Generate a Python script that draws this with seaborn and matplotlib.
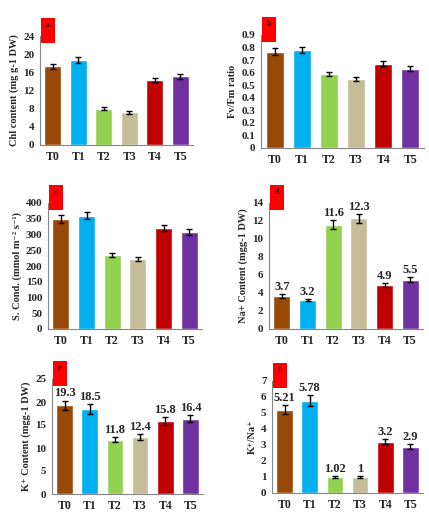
import numpy as np
import pandas as pd
import matplotlib
matplotlib.use("Agg")
import matplotlib.pyplot as plt
from matplotlib.patches import Rectangle
import seaborn as sns

treatments = ["T0", "T1", "T2", "T3", "T4", "T5"]
bar_colors = ["#984807", "#00B0F0", "#92D050", "#C4BD97", "#C00000", "#7030A0"]

chl = [17.3, 18.7, 8.0, 7.2, 14.3, 15.1]
chl_err = [0.6, 0.6, 0.3, 0.3, 0.5, 0.5]

fvfm = [0.765, 0.78, 0.59, 0.55, 0.67, 0.63]
fvfm_err = [0.028, 0.025, 0.015, 0.015, 0.02, 0.02]

cond = [350, 360, 235, 222, 320, 308]
cond_err = [12, 12, 6, 6, 10, 10]

na = [3.7, 3.2, 11.6, 12.3, 4.9, 5.5]
na_err = [0.2, 0.12, 0.5, 0.5, 0.2, 0.25]
na_labels = ["3.7", "3.2", "11.6", "12.3", "4.9", "5.5"]

k = [19.3, 18.5, 11.8, 12.4, 15.8, 16.4]
k_err = [1.0, 1.0, 0.6, 0.7, 0.9, 0.8]
k_labels = ["19.3", "18.5", "11.8", "12.4", "15.8", "16.4"]

ratio = [5.21, 5.78, 1.02, 1.0, 3.2, 2.9]
ratio_err = [0.28, 0.32, 0.06, 0.07, 0.15, 0.15]
ratio_labels = ["5.21", "5.78", "1.02", "1", "3.2", "2.9"]

sns.set_style("white")
plt.rcParams["font.family"] = ["Liberation Serif", "DejaVu Serif"]

W, H = 429, 515
fig = plt.figure(figsize=(W / 100, H / 100), dpi=100)

spine_col = "#868686"


def panel(box, values, errs, ylim, ystep, ylabel, letter, labels=None, fmt="{:g}"):
    x0, x1, ytop, ybot = box
    ax = fig.add_axes([x0 / W, 1 - ybot / H, (x1 - x0) / W, (ybot - ytop) / H])
    df = pd.DataFrame({"treat": treatments, "val": values})
    sns.barplot(data=df, x="treat", y="val", hue="treat", palette=bar_colors,
                legend=False, width=0.66, ax=ax, saturation=1, errorbar=None)
    pos = np.arange(len(treatments))
    ax.errorbar(pos, values, yerr=errs, fmt="none", ecolor="black",
                elinewidth=1, capsize=2.5, capthick=1)
    if labels is not None:
        off = ylim * 0.01
        for p, v, e, t in zip(pos, values, errs, labels):
            ax.text(p, v + e + off, t, ha="center", va="bottom",
                    fontsize=9, fontweight="bold")
    ax.set_xlim(-0.5, len(treatments) - 0.5)
    ax.set_ylim(0, ylim)
    ticks = np.arange(0, ylim + ystep / 2, ystep)
    ax.set_yticks(ticks)
    ax.set_yticklabels([fmt.format(t) for t in ticks], fontsize=8, fontweight="bold")
    ax.set_xticks(pos)
    ax.set_xticklabels(treatments, fontsize=8.5, fontweight="bold")
    ax.set_xticks(np.arange(-0.5, len(treatments)), minor=True)
    ax.tick_params(axis="x", which="major", length=0, pad=4)
    ax.tick_params(axis="x", which="minor", length=3, color=spine_col, direction="out")
    ax.tick_params(axis="y", length=3, color=spine_col, direction="out", pad=1)
    ax.set_xlabel("")
    ax.set_ylabel(ylabel, fontsize=7.5, fontweight="bold", labelpad=3)
    for s in ["top", "right"]:
        ax.spines[s].set_visible(False)
    for s in ["left", "bottom"]:
        ax.spines[s].set_color(spine_col)
        ax.spines[s].set_linewidth(0.8)
    # red panel tag above the top left corner
    rx = (x0 + 0.5) / W
    ry = 1 - (ytop + 7) / H
    rect = Rectangle((rx, ry), 14 / W, 25 / H, transform=fig.transFigure,
                     facecolor="#FF0000", edgecolor="none", zorder=5)
    fig.patches.append(rect)
    fig.text(rx + 7 / W, ry + 18 / H, letter, ha="center", va="center",
             fontsize=6, color="black", zorder=6)
    return ax


panel((40, 193, 36, 145), chl, chl_err, 24, 4, "Chl content (mg g-1 DW)", "a")
panel((261, 424, 35, 148), fvfm, fvfm_err, 0.9, 0.1, "Fv/Fm ratio", "b")
panel((48, 202, 203, 329), cond, cond_err, 400, 50,
      "S. Cond. (mmol m\u207b\u00b2 s\u207b\u00b9)", "c")
panel((269, 423, 203, 329), na, na_err, 14, 2, "Na+ Content (mgg-1 DW)", "d",
      labels=na_labels)
panel((52, 203, 379, 494), k, k_err, 25, 5, "K\u207a Content (mgg-1 DW)", "e",
      labels=k_labels)
panel((272, 423, 381, 493), ratio, ratio_err, 7, 1, "K\u207a/Na\u207a", "f",
      labels=ratio_labels)

fig.savefig("out.png", dpi=100, facecolor="white")
